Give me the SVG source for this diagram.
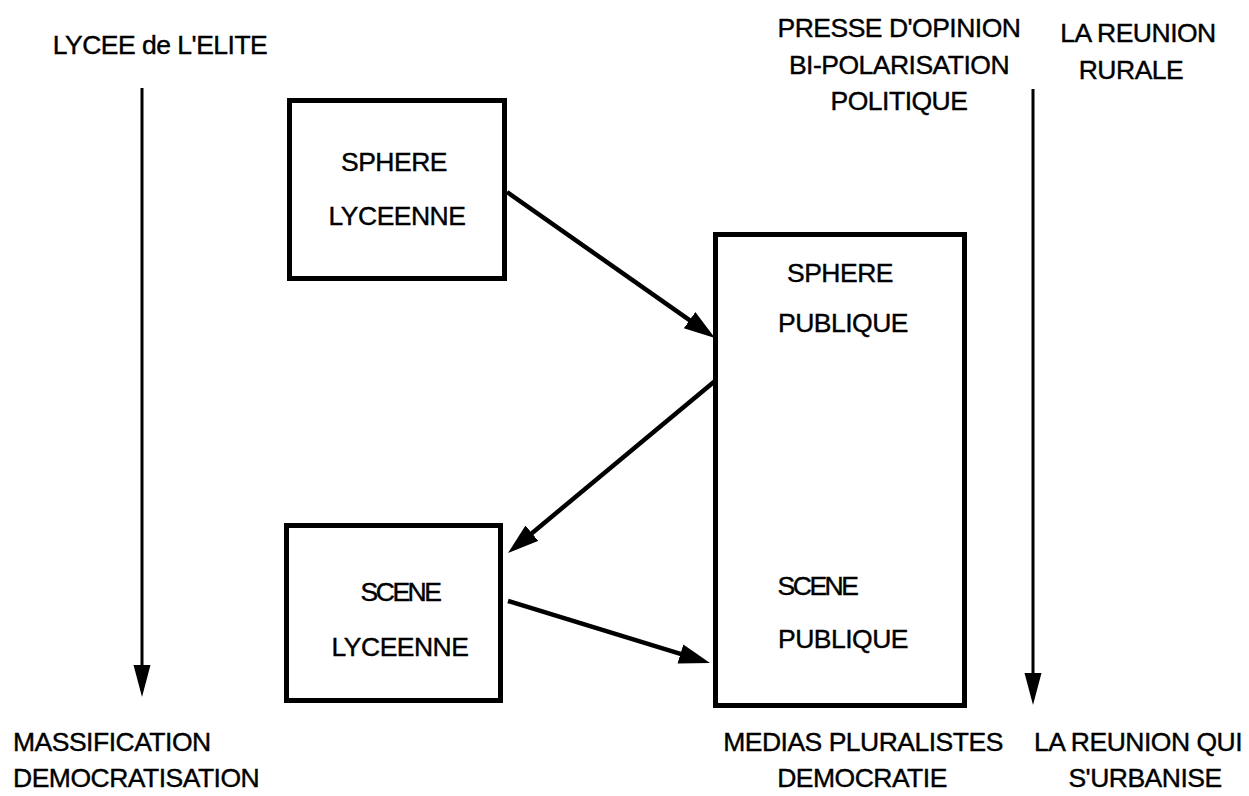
<svg xmlns="http://www.w3.org/2000/svg" width="1249" height="796" viewBox="0 0 1249 796">
<style>
text{font-family:"Liberation Sans",Arial,sans-serif;font-size:26.5px;fill:#000;stroke:#000;stroke-width:0.4px;letter-spacing:-0.5px}
.m{text-anchor:middle}
.box{fill:none;stroke:#000;stroke-width:5}
.con{stroke:#000;stroke-width:4.5;fill:none}
.axis{stroke:#000;stroke-width:3;fill:none}
.tight{letter-spacing:-2.5px}
</style>
<defs>
<marker id="ah" markerUnits="userSpaceOnUse" markerWidth="34" markerHeight="22" refX="23" refY="10" orient="auto">
<path d="M0,0 L31,10 L0,20 z" fill="#000"/>
</marker>
<marker id="av" markerUnits="userSpaceOnUse" markerWidth="34" markerHeight="19" refX="24" refY="8.5" orient="auto">
<path d="M0,0 L32,8.5 L0,17 z" fill="#000"/>
</marker>
</defs>
<rect width="1249" height="796" fill="#fff"/>
<g id="labels">
<text class="m" x="160" y="54">LYCEE de L'ELITE</text>
<text class="m" x="899" y="37">PRESSE D'OPINION</text>
<text class="m" x="899" y="74">BI-POLARISATION</text>
<text class="m" x="899" y="110">POLITIQUE</text>
<text class="m" x="1138" y="42">LA REUNION</text>
<text class="m" x="1131" y="79">RURALE</text>
<text x="13" y="751">MASSIFICATION</text>
<text x="13" y="787">DEMOCRATISATION</text>
<text class="m" x="863" y="751">MEDIAS PLURALISTES</text>
<text class="m" x="862" y="787">DEMOCRATIE</text>
<text x="1034" y="751">LA REUNION QUI</text>
<text class="m" x="1145" y="787">S'URBANISE</text>
</g>
<g id="sphere-lyceenne">
<rect class="box" x="289.5" y="100.5" width="215" height="178"/>
<text class="m" x="394" y="171">SPHERE</text>
<text class="m" x="397" y="225">LYCEENNE</text>
</g>
<g id="scene-lyceenne">
<rect class="box" x="286.5" y="525.5" width="214" height="175"/>
<text class="m tight" x="400" y="601">SCENE</text>
<text class="m" x="400" y="656">LYCEENNE</text>
</g>
<g id="publique">
<rect class="box" x="715.5" y="234.5" width="249" height="471"/>
<text class="m" x="840" y="282">SPHERE</text>
<text class="m" x="843" y="332">PUBLIQUE</text>
<text class="m tight" x="817" y="595">SCENE</text>
<text class="m" x="843" y="648">PUBLIQUE</text>
</g>
<g id="connectors">
<line class="axis" x1="142" y1="88" x2="142" y2="689" marker-end="url(#av)"/>
<line class="axis" x1="1033" y1="89" x2="1033" y2="697" marker-end="url(#av)"/>
<line class="con" x1="507" y1="192" x2="708.4" y2="333.4" marker-end="url(#ah)"/>
<line class="con" x1="715" y1="381" x2="514.2" y2="547.9" marker-end="url(#ah)"/>
<line class="con" x1="508" y1="601" x2="702.4" y2="660.7" marker-end="url(#ah)"/>
</g>
</svg>
